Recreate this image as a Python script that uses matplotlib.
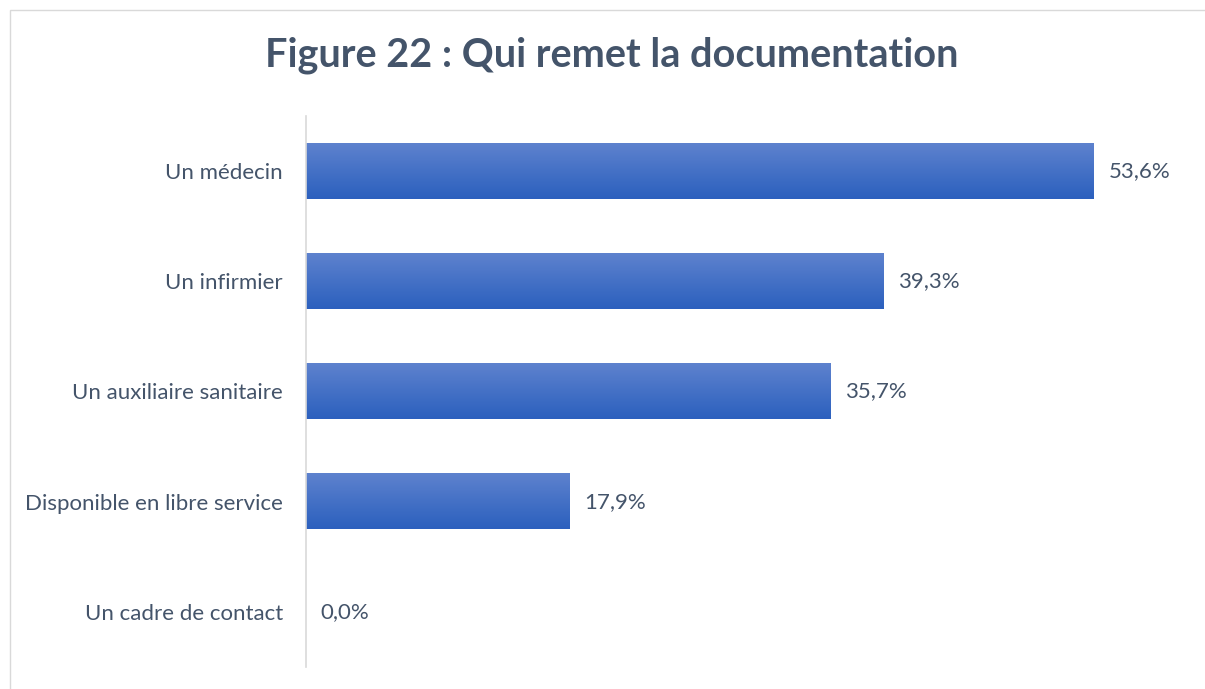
import numpy as np
import matplotlib
matplotlib.use("Agg")
import matplotlib.pyplot as plt
from matplotlib.patches import Rectangle

categories = [
    "Un médecin",
    "Un infirmier",
    "Un auxiliaire sanitaire",
    "Disponible en libre service",
    "Un cadre de contact",
]
values = [53.6, 39.3, 35.7, 17.9, 0.0]
value_labels = ["53,6%", "39,3%", "35,7%", "17,9%", "0,0%"]

TEXT_COLOR = "#44546A"
TOP_COLOR = np.array([0x5E, 0x82, 0xCE]) / 255
BOTTOM_COLOR = np.array([0x2B, 0x60, 0xBE]) / 255
FONT = "Lato"

W, H = 1205, 689
fig = plt.figure(figsize=(W / 100, H / 100), dpi=100)
fig.patch.set_facecolor("white")

# outer frame of the chart area (cut off at right and bottom)
fig.add_artist(Rectangle((10 / W, -0.1), 1.2, (H - 10) / H + 0.1,
                         transform=fig.transFigure, fill=False,
                         edgecolor="#D9D9D9", linewidth=1))

ax = fig.add_axes([306 / W, 1 - 667 / H, 867 / W, 551 / H])
ax.set_xlim(0, 59)
ax.set_ylim(len(categories) - 0.5, -0.5)

y = np.arange(len(categories))
bars = ax.barh(y, values, height=0.5, color="none")

# vertical gradient fill for each bar
grad = np.linspace(0, 1, 256)[:, None]
grad_img = TOP_COLOR[None, None, :] * (1 - grad[:, :, None]) + BOTTOM_COLOR[None, None, :] * grad[:, :, None]
for b in bars:
    x0, y0 = b.get_x(), b.get_y()
    w, h = b.get_width(), b.get_height()
    if w <= 0:
        continue
    ax.imshow(grad_img, extent=(x0, x0 + w, y0 + h, y0), aspect="auto",
              interpolation="bilinear", zorder=2)
ax.set_xlim(0, 59)
ax.set_ylim(len(categories) - 0.5, -0.5)

for yi, v, lab in zip(y, values, value_labels):
    ax.text(v + 1.0, yi, lab, va="center", ha="left", fontsize=16,
            color=TEXT_COLOR, family=FONT)

ax.set_yticks(y)
ax.set_yticklabels(categories, fontsize=16, color=TEXT_COLOR, family=FONT)
ax.tick_params(axis="y", length=0, pad=16.5)
ax.set_xticks([])
for s in ["top", "right", "bottom"]:
    ax.spines[s].set_visible(False)
ax.spines["left"].set_color("#D9D9D9")
ax.spines["left"].set_linewidth(1.2)

fig.text(612 / W, 1 - 55 / H, "Figure 22 : Qui remet la documentation",
         ha="center", va="center", fontsize=28.5, fontweight="bold",
         color=TEXT_COLOR, family=FONT)

fig.savefig("out.png", dpi=100)
